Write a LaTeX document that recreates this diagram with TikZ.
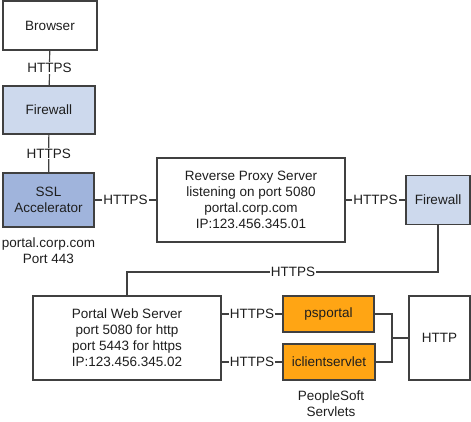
\documentclass[tikz,border=0pt]{standalone}
\usepackage{fontspec}
\setmainfont{Liberation Sans}
\usepackage{tikz}
\usetikzlibrary{positioning}

\definecolor{fwblue}{HTML}{CDD9ED}
\definecolor{sslblue}{HTML}{A0B4DC}
\definecolor{servletorange}{HTML}{FFA514}
\definecolor{edgegray}{HTML}{404040}
\definecolor{textgray}{HTML}{1E1E1E}

\begin{document}
\begin{tikzpicture}[x=1bp,y=-1bp,
    every node/.style={font=\fontsize{13.5bp}{16bp}\selectfont,text=textgray,align=center,inner sep=0pt},
    box/.style={draw=edgegray,line width=1.3bp,fill=white},
    size/.style 2 args={minimum width=#1bp,minimum height=#2bp},
    fw/.style={fill=fwblue},
    ssl/.style={fill=sslblue},
    servlet/.style={fill=servletorange},
    link/.style={draw=edgegray,line width=1.2bp},
    lbl/.style={fill=white,inner sep=1bp}]
    \useasboundingbox (0,0) rectangle (471,421);

    % left column
    \node[box,size={94}{49}] (browser) at (50,25.5) {Browser};
    \node[box,fw,size={92}{48}] (fw1) at (49,110) {Firewall};
    \node[box,ssl,size={91}{54}] (ssl) at (48.5,200) {SSL\\Accelerator};
    \node (sslinfo) at (48.5,250.5) {portal.corp.com\\Port 443};

    % proxy row
    \node[box,size={188}{84}] (proxy) at (251,200)
        {Reverse Proxy Server\\listening on port 5080\\portal.corp.com\\IP:123.456.345.01};
    \node[box,fw,size={64}{49}] (fw2) at (438,200) {Firewall};

    % web server row
    \node[box,size={188}{84}] (pws) at (127,338)
        {Portal Web Server\\port 5080 for http\\port 5443 for https\\IP:123.456.345.02};
    \node[box,servlet,size={91}{36}] (psportal) at (328.5,314) {psportal};
    \node[box,servlet,size={92}{36}] (iclient) at (329,362) {iclientservlet};
    \node[box,size={61}{84}] (http) at (439.5,338) {HTTP};
    \node (servlets) at (331,404) {PeopleSoft\\Servlets};

    %putting links and labels:
    \draw[link] (browser) -- node[lbl]{HTTPS} (fw1);
    \draw[link] (fw1) -- node[lbl]{HTTPS} (ssl);
    \draw[link] (ssl) -- node[lbl]{HTTPS} (proxy);
    \draw[link] (proxy) -- node[lbl]{HTTPS} (fw2);

    \coordinate (drop) at (438,272);
    \coordinate (turn) at (127,272);
    \draw[link] (fw2.south) -- (drop) -- node[lbl,pos=0.466]{HTTPS} (turn) -- (pws.north);

    \draw[link] (pws.east |- psportal.west) -- node[lbl]{HTTPS} (psportal.west);
    \draw[link] (pws.east |- iclient.west) -- node[lbl]{HTTPS} (iclient.west);

    \coordinate (join) at (392,338);
    \draw[link] (psportal.east) -| (join) -- (http.west);
    \draw[link] (iclient.east) -| (join);
\end{tikzpicture}
\end{document}
